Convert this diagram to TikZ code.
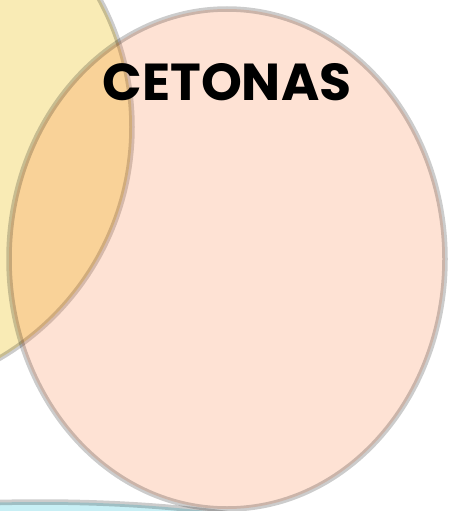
\documentclass[tikz,border=0pt]{standalone}
\usepackage{fontspec}
\setmainfont{Poppins}
\definecolor{yellowbase}{RGB}{238,192,12}
\definecolor{pinkbase}{RGB}{250,110,40}
\definecolor{cyanbase}{RGB}{72,205,222}
\begin{document}
\begin{tikzpicture}[x=1pt,y=-1pt,
  blob/.style={draw=black, draw opacity=0.2, line width=5.5pt},
  title/.style={font=\fontsize{52}{60}\selectfont\bfseries, text=black, inner sep=0pt}]
\useasboundingbox (0,0) rectangle (450,511);
\clip (0,0) rectangle (450,511);
\fill[white] (0,0) rectangle (450,511);
\path[blob, fill=cyanbase, fill opacity=0.3] (40,602) ellipse [x radius=400pt, y radius=100pt];
\path[blob, fill=yellowbase, fill opacity=0.3] (-136,127) circle [radius=268pt];
\path[blob, fill=pinkbase, fill opacity=0.2] (227,259) ellipse [x radius=218pt, y radius=250pt];
\node[title] (t) at (227,82) {CETONAS};
\end{tikzpicture}
\end{document}
